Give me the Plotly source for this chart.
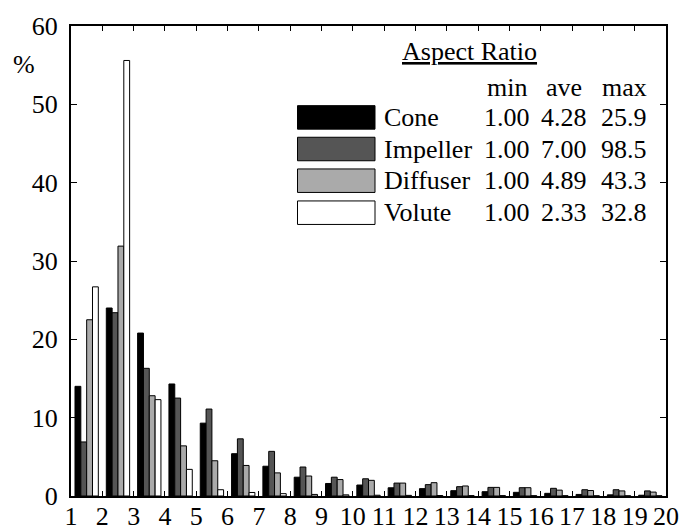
import plotly.graph_objects as go

# Aspect-ratio histogram: share of cells (%) per aspect-ratio bin [k, k+1)
bin_start = list(range(1, 20))
bin_centers = [b + 0.5 for b in bin_start]
tick_values = list(range(1, 21))

cone = [14.0, 24.0, 20.8, 14.3, 9.3, 5.4, 3.8, 2.4, 1.6, 1.4,
        1.05, 0.94, 0.68, 0.55, 0.47, 0.34, 0.2, 0.15, 0.1]
impeller = [6.9, 23.4, 16.3, 12.5, 11.1, 7.3, 5.7, 3.7, 2.4, 2.2,
            1.65, 1.45, 1.19, 1.1, 1.06, 0.98, 0.8, 0.8, 0.65]
diffuser = [22.5, 31.9, 12.8, 6.4, 4.5, 3.9, 2.95, 2.55, 2.1, 2.0,
            1.65, 1.7, 1.28, 1.1, 1.06, 0.75, 0.7, 0.65, 0.5]
volute = [26.7, 55.6, 12.3, 3.4, 0.8, 0.45, 0.3, 0.2, 0.15, 0.1,
          0.08, 0.06, 0.05, 0.05, 0.04, 0.04, 0.03, 0.03, 0.03]

parts = ["Cone", "Impeller", "Diffuser", "Volute"]
part_colors = ["#000000", "#555555", "#aaaaaa", "#ffffff"]
stat_headers = ["min", "ave", "max"]
stat_min = ["1.00", "1.00", "1.00", "1.00"]
stat_ave = ["4.28", "7.00", "4.89", "2.33"]
stat_max = ["25.9", "98.5", "43.3", "32.8"]

FONT = "Liberation Serif"
FS = 26

fig = go.Figure()
for name, vals, col in zip(parts, [cone, impeller, diffuser, volute], part_colors):
    fig.add_trace(go.Bar(
        x=bin_centers, y=vals, name=name,
        marker=dict(color=col, line=dict(color="black", width=1)),
        showlegend=False,
    ))

# Custom legend table: swatches, part names and min / ave / max statistics
L, R, T, B = 71, 666, 26, 496


def px(xp):
    return (xp - L) / (R - L)


def py(yp):
    return (B - yp) / (B - T)


shapes = []
annotations = []
row_y = [117.4, 149.0, 180.7, 212.7]
box_h = 23.5
col_x = [507, 564, 624]

annotations.append(dict(
    x=px(469.5), y=py(52), xref="paper", yref="paper",
    text="<u>Aspect Ratio</u>", showarrow=False,
    xanchor="center", yanchor="middle", font=dict(family=FONT, size=FS, color="black")))
for cx, h in zip(col_x, stat_headers):
    annotations.append(dict(
        x=px(cx), y=py(88), xref="paper", yref="paper", text=h, showarrow=False,
        xanchor="center", yanchor="middle", font=dict(family=FONT, size=FS, color="black")))

for i, (name, col) in enumerate(zip(parts, part_colors)):
    yc = row_y[i]
    shapes.append(dict(
        type="rect", xref="paper", yref="paper",
        x0=px(297.5), x1=px(375), y0=py(yc - box_h / 2), y1=py(yc + box_h / 2),
        fillcolor=col, line=dict(color="black", width=1)))
    annotations.append(dict(
        x=px(382), y=py(yc), xref="paper", yref="paper", text=name, showarrow=False,
        xanchor="left", yanchor="middle", font=dict(family=FONT, size=FS, color="black")))
    for cx, v in zip(col_x, [stat_min[i], stat_ave[i], stat_max[i]]):
        annotations.append(dict(
            x=px(cx), y=py(yc), xref="paper", yref="paper", text=v, showarrow=False,
            xanchor="center", yanchor="middle", font=dict(family=FONT, size=FS, color="black")))

annotations.append(dict(
    x=px(24), y=py(65), xref="paper", yref="paper", text="%", showarrow=False,
    xanchor="center", yanchor="middle", font=dict(family=FONT, size=FS, color="black")))

fig.update_layout(
    width=681, height=527,
    margin=dict(l=L, r=681 - R, t=T, b=527 - B, pad=0, autoexpand=False),
    paper_bgcolor="white", plot_bgcolor="white",
    barmode="group", bargap=0.255, bargroupgap=0,
    font=dict(family=FONT, size=FS, color="black"),
    shapes=shapes, annotations=annotations,
    xaxis=dict(
        range=[1, 20], tickmode="array", tickvals=tick_values,
        ticktext=[str(t) for t in tick_values],
        ticks="inside", ticklen=5, tickwidth=1, tickcolor="black",
        showline=True, linecolor="black", linewidth=2, mirror="ticks",
        showgrid=False, zeroline=False, ticklabelstandoff=-4, automargin=False,
        tickfont=dict(family=FONT, size=FS, color="black"),
    ),
    yaxis=dict(
        range=[0, 60], tickmode="linear", tick0=0, dtick=10,
        ticks="inside", ticklen=6, tickwidth=1, tickcolor="black",
        showline=True, linecolor="black", linewidth=2, mirror="ticks",
        showgrid=False, zeroline=False, ticklabelstandoff=6, automargin=False,
        tickfont=dict(family=FONT, size=FS, color="black"),
    ),
)

fig.write_html("out.html")
